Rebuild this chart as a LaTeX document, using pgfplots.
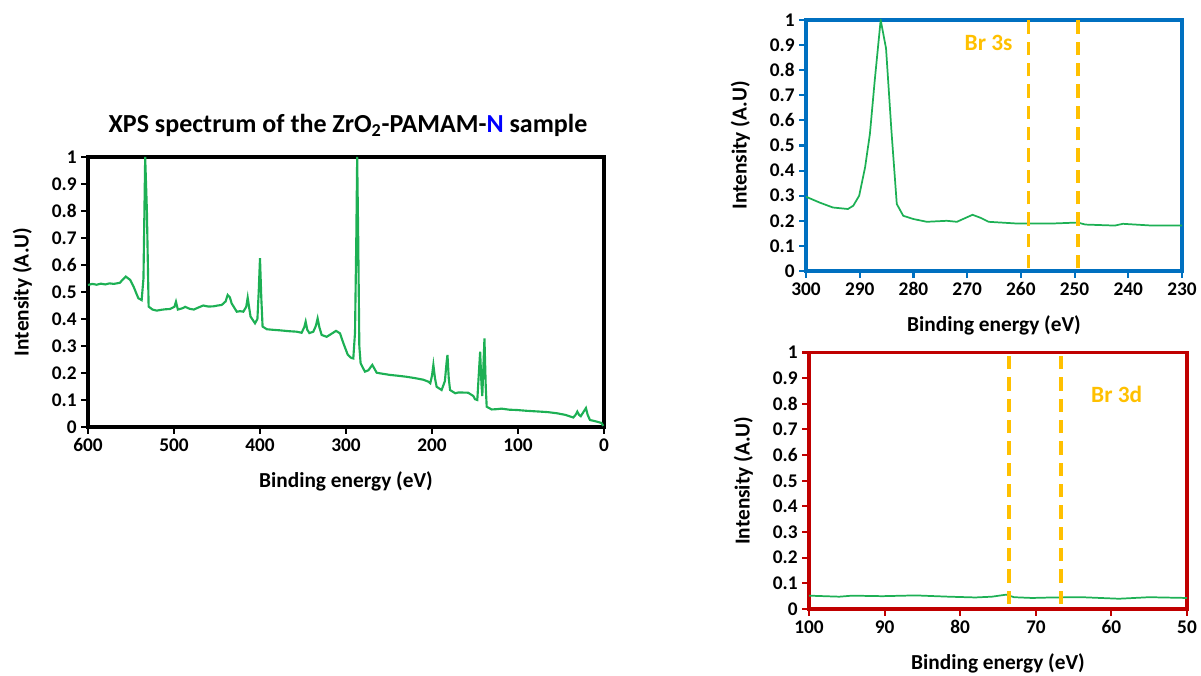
\documentclass[border=0pt]{standalone}
\usepackage{pgfplots}
\pgfplotsset{compat=1.18}
\usepackage{fontspec}
\setmainfont{Carlito}

\definecolor{specgreen}{HTML}{1DB054}
\definecolor{frameblue}{HTML}{0070C0}
\definecolor{framered}{HTML}{C00000}
\definecolor{brline}{HTML}{FFC000}

\pgfplotsset{
  xps/.style={
    scale only axis,
    x dir=reverse,
    ymin=0, ymax=1,
    ytick={0,0.1,0.2,0.3,0.4,0.5,0.6,0.7,0.8,0.9,1},
    tick align=outside,
    xtick pos=bottom, ytick pos=left,
    major tick length=5pt,
    /pgf/number format/assume math mode=true,
    tick label style={font=\bfseries\fontsize{14.5}{16}\selectfont},
    label style={font=\bfseries\fontsize{16}{18}\selectfont},
    xlabel={Binding energy (eV)},
    ylabel={Intensity (A.U)},
    xlabel style={yshift=-8pt},
    ylabel style={yshift=8pt},
    axis line style={line width=2.3pt},
  },
  spec/.style={color=specgreen, line width=1.6pt, mark=none},
  brdash/.style={brline, line width=2.8pt, dash pattern=on 10pt off 6pt},
}

\begin{document}
\begin{tikzpicture}
\path[use as bounding box] (0,0) rectangle (900.75pt,506.25pt);

% survey spectrum
\begin{axis}[xps,
  at={(66pt,186pt)}, anchor=south west,
  width=387pt, height=202.5pt,
  xmin=0, xmax=600,
  xtick={0,100,200,300,400,500,600},
  axis line style={black},
  major tick style={black, line width=1.6pt},
]
\addplot[spec] coordinates {
(600,0.526) (595,0.530) (590,0.527) (585,0.531) (580,0.528) (575,0.532) (570,0.530)
(563,0.534) (559,0.548) (556,0.557) (551,0.545) (547,0.52) (541.5,0.477) (537.6,0.47)
(535.5,0.55) (533.5,1.0) (531.5,0.8) (529.5,0.446) (525,0.435) (520,0.431) (515,0.434)
(510,0.436) (504.7,0.437) (499.5,0.445) (497.7,0.464) (495.5,0.435) (490,0.44) (487,0.445)
(482,0.438) (477,0.435) (472,0.442) (466,0.45) (460,0.446) (454,0.447) (449,0.450)
(444.5,0.452) (440,0.465) (437.6,0.489) (435,0.48) (433,0.458) (427,0.427) (423,0.429)
(419.4,0.427) (416,0.445) (414.3,0.479) (412.5,0.44) (411,0.409) (405.8,0.384) (403,0.40)
(401.5,0.5) (400,0.625) (398.5,0.48) (397,0.372) (392,0.362) (385,0.36) (376.7,0.358)
(367,0.355) (357.4,0.353) (351.6,0.349) (348.5,0.37) (346.9,0.39) (345,0.36) (342.6,0.348)
(338,0.353) (335,0.375) (333,0.402) (331,0.37) (328.3,0.341) (322.5,0.334) (317,0.345)
(311.6,0.356) (307,0.347) (303,0.31) (298,0.268) (294,0.256) (291.5,0.254) (289.5,0.35)
(288,0.7) (287,1.0) (285.8,0.7) (284.5,0.3) (283,0.236) (278,0.205) (274,0.21)
(269.4,0.23) (264.3,0.201) (257,0.197) (249,0.193) (240,0.19) (229.5,0.186) (218,0.18)
(210,0.175) (204.3,0.168) (202,0.162) (200,0.19) (198.4,0.23) (196.5,0.18) (194.6,0.149)
(188.8,0.137) (185,0.17) (183,0.24) (182,0.267) (180.5,0.18) (179,0.137) (173,0.125)
(169,0.128) (158,0.127) (152,0.115) (150,0.103) (147.3,0.1) (145.5,0.2) (144,0.279)
(142.5,0.16) (141.5,0.115) (140.5,0.2) (139,0.328) (137.5,0.15) (136.4,0.075) (130.6,0.065)
(125,0.066) (119,0.068) (110,0.064) (101.5,0.063) (90,0.06) (74.4,0.057) (65,0.055)
(55,0.051) (45,0.045) (35.7,0.035) (33,0.045) (31,0.057) (29,0.045) (27,0.04)
(24,0.055) (22,0.065) (21,0.07) (19,0.045) (16.3,0.026) (8.5,0.02) (3,0.015) (0.8,0.004)
};
\end{axis}
\node[font=\bfseries\fontsize{19.5}{22}\selectfont] at (261pt,412.5pt)
  {XPS spectrum of the ZrO\textsubscript{2}-PAMAM-{\color{blue}N} sample};

% Br 3s window
\begin{axis}[xps,
  at={(604.5pt,303pt)}, anchor=south west,
  width=282pt, height=188.25pt,
  xmin=230, xmax=300,
  xtick={230,240,250,260,270,280,290,300},
  axis line style={frameblue},
  major tick style={frameblue, line width=1.6pt},
]
\addplot[spec, line width=1.3pt] coordinates {
(300,0.296) (297.5,0.273) (295,0.253) (292.2,0.247) (291.2,0.26) (290.1,0.30) (289,0.413)
(288.1,0.547) (287.2,0.76) (286.1,1.0) (285.1,0.887) (284.1,0.56) (283.1,0.267) (281.9,0.22)
(280,0.207) (277.5,0.196) (273.8,0.2) (271.9,0.196) (269,0.224) (267.4,0.211) (266,0.196)
(260.6,0.189) (254.4,0.189) (249.4,0.193) (248,0.185) (242.5,0.181) (241,0.188) (235.6,0.181)
(230,0.181)
};
\addplot[brdash] coordinates {(258.6,0.01) (258.6,1)};
\addplot[brdash] coordinates {(249.4,0.01) (249.4,1)};
\node[brline, font=\bfseries\fontsize{17.5}{19}\selectfont] at (axis cs:266,0.907) {Br 3s};
\end{axis}

% Br 3d window
\begin{axis}[xps,
  at={(606.75pt,49.5pt)}, anchor=south west,
  width=283.5pt, height=192.4pt,
  xmin=50, xmax=100,
  xtick={50,60,70,80,90,100},
  axis line style={framered},
  major tick style={framered, line width=1.6pt},
]
\addplot[spec, line width=1.3pt] coordinates {
(100,0.052) (96,0.048) (94.3,0.052) (90.3,0.05) (85.9,0.053) (81.5,0.048) (78,0.045)
(75.8,0.048) (73.9,0.056) (72.9,0.046) (70.5,0.043) (67.8,0.045) (63.9,0.046) (59,0.04)
(55,0.046) (50,0.043)
};
\addplot[brdash] coordinates {(73.5,0.02) (73.5,1)};
\addplot[brdash] coordinates {(66.7,0.02) (66.7,1)};
\node[brline, font=\bfseries\fontsize{17.5}{19}\selectfont] at (axis cs:59.3,0.837) {Br 3d};
\end{axis}
\end{tikzpicture}
\end{document}
